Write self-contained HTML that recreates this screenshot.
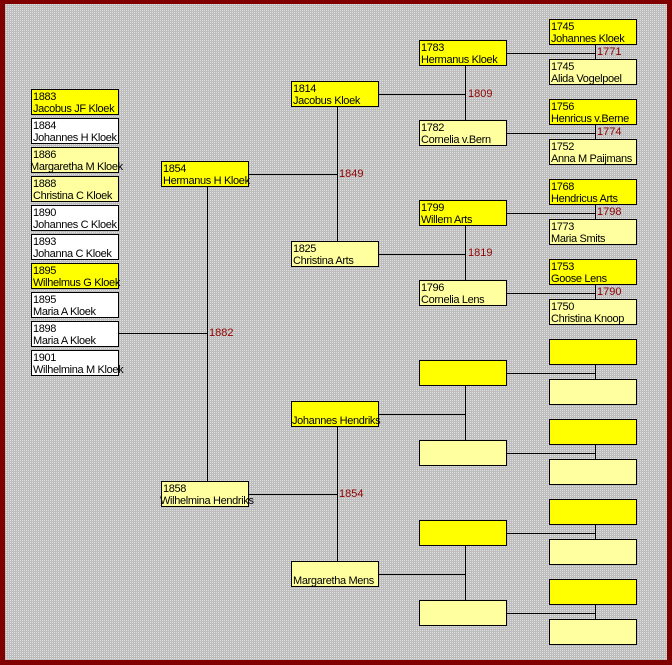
<!DOCTYPE html>
<html><head><meta charset="utf-8"><style>
html,body{margin:0;padding:0}
body{width:672px;height:665px;position:relative;overflow:hidden;background:#800000;font-family:"Liberation Sans",sans-serif}
#bg{position:absolute;left:5px;top:4px;width:662px;height:656px;background:repeating-conic-gradient(#e0e0e0 0 25%,#bdbdbd 0 100%) 0 0/2px 2px}
.b{position:absolute;width:86px;height:24px;border:1px solid #000;font-size:11px;line-height:12px;color:#000;white-space:nowrap;padding:0;box-sizing:content-box;overflow:visible;letter-spacing:-0.35px}
.b span{display:block;padding-left:1px}
.b span:first-child{margin-top:1px}
.m{background:#ffff00}.f{background:#ffffa0}.w{background:#fff}
.l{position:absolute;font-size:11px;color:#900000;line-height:12px}
svg{position:absolute;left:0;top:0}
</style></head><body>
<div id="bg"></div>
<svg width="672" height="665">
<g stroke="#000" stroke-width="1" fill="none">
<line x1="119" y1="333.5" x2="207.5" y2="333.5"/>
<line x1="207.5" y1="187" x2="207.5" y2="481"/>
<line x1="249" y1="174.5" x2="337.5" y2="174.5"/>
<line x1="337.5" y1="107" x2="337.5" y2="241"/>
<line x1="249" y1="494.5" x2="337.5" y2="494.5"/>
<line x1="337.5" y1="427" x2="337.5" y2="561"/>
<line x1="379" y1="94.5" x2="465.5" y2="94.5"/>
<line x1="465.5" y1="66" x2="465.5" y2="120"/>
<line x1="379" y1="254.5" x2="465.5" y2="254.5"/>
<line x1="465.5" y1="226" x2="465.5" y2="280"/>
<line x1="379" y1="414.5" x2="465.5" y2="414.5"/>
<line x1="465.5" y1="386" x2="465.5" y2="440"/>
<line x1="379" y1="574.5" x2="465.5" y2="574.5"/>
<line x1="465.5" y1="546" x2="465.5" y2="600"/>
<line x1="507" y1="53.5" x2="595.5" y2="53.5"/><line x1="595.5" y1="45" x2="595.5" y2="59"/>
<line x1="507" y1="133.5" x2="595.5" y2="133.5"/><line x1="595.5" y1="125" x2="595.5" y2="139"/>
<line x1="507" y1="213.5" x2="595.5" y2="213.5"/><line x1="595.5" y1="205" x2="595.5" y2="219"/>
<line x1="507" y1="293.5" x2="595.5" y2="293.5"/><line x1="595.5" y1="285" x2="595.5" y2="299"/>
<line x1="507" y1="373.5" x2="595.5" y2="373.5"/><line x1="595.5" y1="365" x2="595.5" y2="379"/>
<line x1="507" y1="453.5" x2="595.5" y2="453.5"/><line x1="595.5" y1="445" x2="595.5" y2="459"/>
<line x1="507" y1="533.5" x2="595.5" y2="533.5"/><line x1="595.5" y1="525" x2="595.5" y2="539"/>
<line x1="507" y1="613.5" x2="595.5" y2="613.5"/><line x1="595.5" y1="605" x2="595.5" y2="619"/>
</g></svg>

<div class="b m" style="left:31px;top:89px"><span>1883</span><span>Jacobus JF Kloek</span></div>
<div class="b w" style="left:31px;top:118px"><span>1884</span><span>Johannes H Kloek</span></div>
<div class="b f" style="left:31px;top:147px"><span>1886</span><span style="margin-left:-3px">Margaretha M Kloek</span></div>
<div class="b f" style="left:31px;top:176px"><span>1888</span><span>Christina C Kloek</span></div>
<div class="b w" style="left:31px;top:205px"><span>1890</span><span>Johannes C Kloek</span></div>
<div class="b w" style="left:31px;top:234px"><span>1893</span><span>Johanna C Kloek</span></div>
<div class="b m" style="left:31px;top:263px"><span>1895</span><span>Wilhelmus G Kloek</span></div>
<div class="b w" style="left:31px;top:292px"><span>1895</span><span>Maria A Kloek</span></div>
<div class="b w" style="left:31px;top:321px"><span>1898</span><span>Maria A Kloek</span></div>
<div class="b w" style="left:31px;top:350px"><span>1901</span><span>Wilhelmina M Kloek</span></div>

<div class="b m" style="left:161px;top:161px"><span>1854</span><span>Hermanus H Kloek</span></div>
<div class="b f" style="left:161px;top:481px"><span>1858</span><span style="margin-left:-3px">Wilhelmina Hendriks</span></div>

<div class="b m" style="left:291px;top:81px"><span>1814</span><span>Jacobus Kloek</span></div>
<div class="b f" style="left:291px;top:241px"><span>1825</span><span>Christina Arts</span></div>
<div class="b m" style="left:291px;top:401px"><span>&nbsp;</span><span style="margin-left:-1px">Johannes Hendriks</span></div>
<div class="b f" style="left:291px;top:561px"><span>&nbsp;</span><span>Margaretha Mens</span></div>

<div class="b m" style="left:419px;top:40px"><span>1783</span><span>Hermanus Kloek</span></div>
<div class="b f" style="left:419px;top:120px"><span>1782</span><span>Cornelia v.Bern</span></div>
<div class="b m" style="left:419px;top:200px"><span>1799</span><span>Willem Arts</span></div>
<div class="b f" style="left:419px;top:280px"><span>1796</span><span>Cornelia Lens</span></div>
<div class="b m" style="left:419px;top:360px"></div>
<div class="b f" style="left:419px;top:440px"></div>
<div class="b m" style="left:419px;top:520px"></div>
<div class="b f" style="left:419px;top:600px"></div>

<div class="b m" style="left:549px;top:19px"><span>1745</span><span>Johannes Kloek</span></div>
<div class="b f" style="left:549px;top:59px"><span>1745</span><span>Alida Vogelpoel</span></div>
<div class="b m" style="left:549px;top:99px"><span>1756</span><span>Henricus v.Berne</span></div>
<div class="b f" style="left:549px;top:139px"><span>1752</span><span>Anna M Paijmans</span></div>
<div class="b m" style="left:549px;top:179px"><span>1768</span><span>Hendricus Arts</span></div>
<div class="b f" style="left:549px;top:219px"><span>1773</span><span>Maria Smits</span></div>
<div class="b m" style="left:549px;top:259px"><span>1753</span><span>Goose Lens</span></div>
<div class="b f" style="left:549px;top:299px"><span>1750</span><span>Christina Knoop</span></div>
<div class="b m" style="left:549px;top:339px"></div>
<div class="b f" style="left:549px;top:379px"></div>
<div class="b m" style="left:549px;top:419px"></div>
<div class="b f" style="left:549px;top:459px"></div>
<div class="b m" style="left:549px;top:499px"></div>
<div class="b f" style="left:549px;top:539px"></div>
<div class="b m" style="left:549px;top:579px"></div>
<div class="b f" style="left:549px;top:619px"></div>

<div class="l" style="left:209px;top:327px">1882</div>
<div class="l" style="left:339px;top:168px">1849</div>
<div class="l" style="left:339px;top:488px">1854</div>
<div class="l" style="left:468px;top:88px">1809</div>
<div class="l" style="left:468px;top:247px">1819</div>
<div class="l" style="left:597px;top:46px">1771</div>
<div class="l" style="left:597px;top:126px">1774</div>
<div class="l" style="left:597px;top:206px">1798</div>
<div class="l" style="left:597px;top:286px">1790</div>
</body></html>
